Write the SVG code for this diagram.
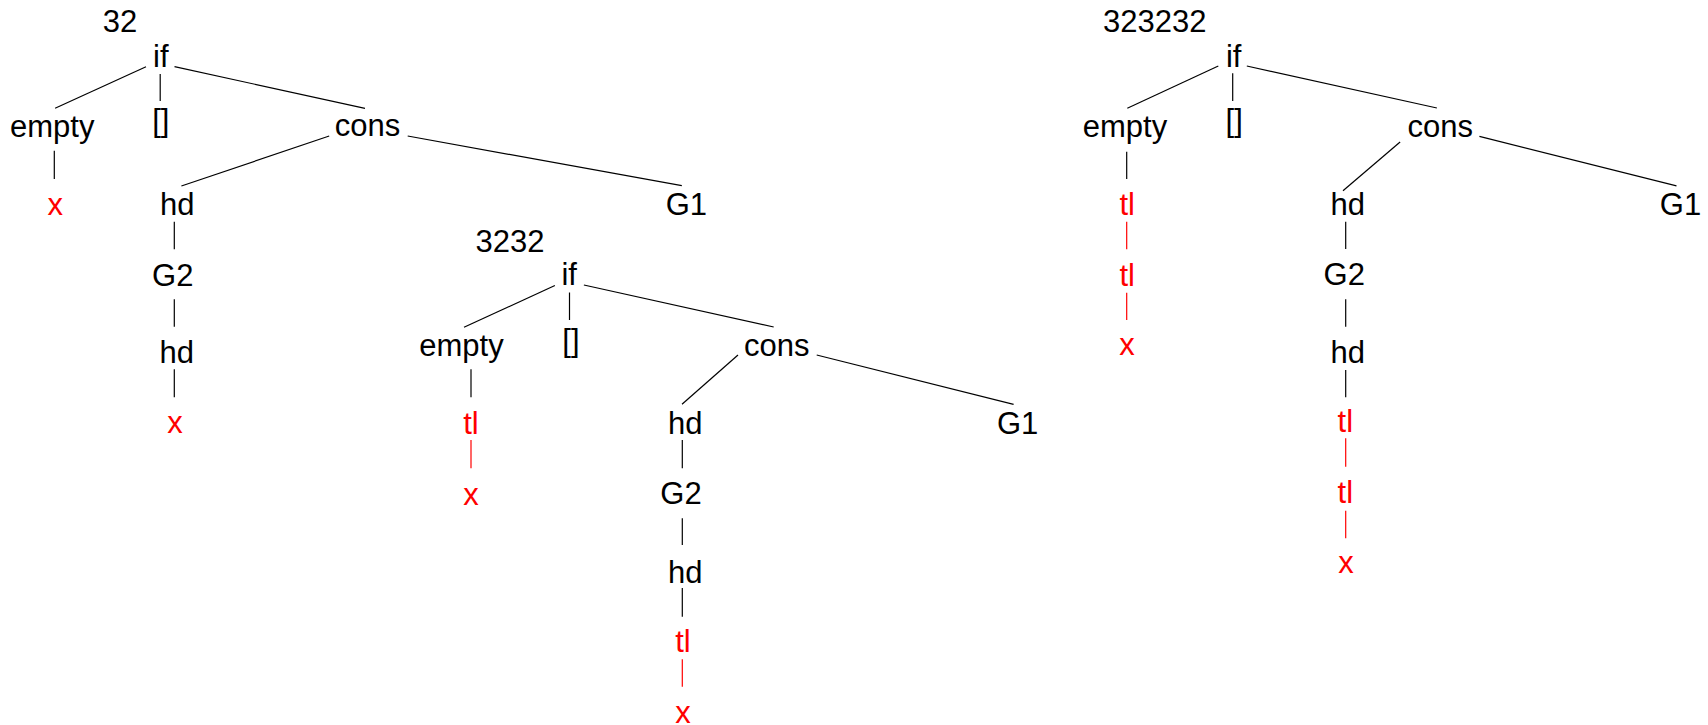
<svg xmlns="http://www.w3.org/2000/svg" width="1708" height="725" viewBox="0 0 1708 725">
  <style>
    text { font-family: "Liberation Sans", Arial, Helvetica, sans-serif; font-size: 31px; text-anchor: middle; fill: #000; }
    text.r { fill: #ff0000; }
    .e line { stroke: #000; stroke-width: 1.2; }
    .e line.r { stroke: #ff0000; }
  </style>
  <rect width="1708" height="725" fill="#fff"/>

  <!-- connectors -->
  <g id="connectors" class="e">
    <!-- tree 32 -->
    <line x1="146" y1="66.7" x2="55.1" y2="108.3"/>
    <line x1="160.2" y1="74" x2="160.2" y2="101"/>
    <line x1="174.5" y1="66.7" x2="365" y2="108.3"/>
    <line x1="54.3" y1="150.7" x2="54.3" y2="179"/>
    <line x1="329.2" y1="136" x2="181.4" y2="186"/>
    <line x1="407.7" y1="136" x2="681.8" y2="185.7"/>
    <line x1="174.3" y1="221.7" x2="174.3" y2="249.3"/>
    <line x1="174.3" y1="299.3" x2="174.3" y2="326.7"/>
    <line x1="174.3" y1="369.3" x2="174.3" y2="397.3"/>
    <!-- tree 3232 -->
    <line x1="554.9" y1="285.5" x2="464" y2="327.3"/>
    <line x1="569.5" y1="292.5" x2="569.5" y2="320"/>
    <line x1="583.9" y1="285" x2="773.7" y2="327"/>
    <line x1="471" y1="369.3" x2="471" y2="397.3"/>
    <line class="r" x1="471" y1="440" x2="471" y2="468.3"/>
    <line x1="738" y1="355" x2="682" y2="404.3"/>
    <line x1="816.7" y1="355" x2="1013.6" y2="404.3"/>
    <line x1="682.3" y1="440" x2="682.3" y2="468.3"/>
    <line x1="682.3" y1="518.3" x2="682.3" y2="545"/>
    <line x1="682.3" y1="588" x2="682.3" y2="616.7"/>
    <line class="r" x1="682.3" y1="659.3" x2="682.3" y2="686.7"/>
    <!-- tree 323232 -->
    <line x1="1218.3" y1="66" x2="1127.3" y2="108.3"/>
    <line x1="1232.7" y1="73.3" x2="1232.7" y2="101"/>
    <line x1="1246.8" y1="66" x2="1436.9" y2="108"/>
    <line x1="1126.7" y1="151.7" x2="1126.7" y2="179"/>
    <line class="r" x1="1126.7" y1="221.7" x2="1126.7" y2="249.3"/>
    <line class="r" x1="1126.7" y1="292.7" x2="1126.7" y2="320"/>
    <line x1="1400.1" y1="142" x2="1343" y2="190.8"/>
    <line x1="1479.4" y1="136.3" x2="1676.5" y2="185.9"/>
    <line x1="1345.7" y1="221.7" x2="1345.7" y2="249"/>
    <line x1="1345.7" y1="299.3" x2="1345.7" y2="326.7"/>
    <line x1="1345.7" y1="370" x2="1345.7" y2="397.3"/>
    <line class="r" x1="1345.7" y1="438.3" x2="1345.7" y2="466.7"/>
    <line class="r" x1="1345.7" y1="510.7" x2="1345.7" y2="538.3"/>
  </g>

  <!-- tree 32 -->
  <g id="t1-label"><text x="120" y="31.7">32</text></g>
  <g id="t1-if"><text x="160.8" y="66.7">if</text></g>
  <g id="t1-empty"><text x="52.2" y="136.7">empty</text></g>
  <g id="t1-nil"><text x="160.8" y="131">[]</text></g>
  <g id="t1-cons"><text x="367.5" y="136">cons</text></g>
  <g id="t1-x1"><text class="r" x="55.3" y="215">x</text></g>
  <g id="t1-hd1"><text x="177.2" y="215">hd</text></g>
  <g id="t1-g1"><text x="686.4" y="215">G1</text></g>
  <g id="t1-g2"><text x="172.7" y="286">G2</text></g>
  <g id="t1-hd2"><text x="176.7" y="363.3">hd</text></g>
  <g id="t1-x2"><text class="r" x="175" y="433.4">x</text></g>

  <!-- tree 3232 -->
  <g id="t2-label"><text x="510" y="251.7">3232</text></g>
  <g id="t2-if"><text x="569.2" y="285">if</text></g>
  <g id="t2-empty"><text x="461.5" y="355.5">empty</text></g>
  <g id="t2-nil"><text x="570.9" y="351">[]</text></g>
  <g id="t2-cons"><text x="776.7" y="355.5">cons</text></g>
  <g id="t2-tl1"><text class="r" x="471" y="434">tl</text></g>
  <g id="t2-x1"><text class="r" x="471" y="505">x</text></g>
  <g id="t2-hd1"><text x="685.2" y="434">hd</text></g>
  <g id="t2-g1"><text x="1017.6" y="434">G1</text></g>
  <g id="t2-g2"><text x="681" y="504">G2</text></g>
  <g id="t2-hd2"><text x="685.2" y="582.7">hd</text></g>
  <g id="t2-tl2"><text class="r" x="683" y="651.7">tl</text></g>
  <g id="t2-x2"><text class="r" x="683" y="723.3">x</text></g>

  <!-- tree 323232 -->
  <g id="t3-label"><text x="1154.7" y="31.7">323232</text></g>
  <g id="t3-if"><text x="1233.7" y="66.7">if</text></g>
  <g id="t3-empty"><text x="1125" y="136.7">empty</text></g>
  <g id="t3-nil"><text x="1234.2" y="131">[]</text></g>
  <g id="t3-cons"><text x="1440.2" y="136.6">cons</text></g>
  <g id="t3-tl1"><text class="r" x="1127.2" y="215">tl</text></g>
  <g id="t3-tl2"><text class="r" x="1127.2" y="286">tl</text></g>
  <g id="t3-x1"><text class="r" x="1127" y="355">x</text></g>
  <g id="t3-hd1"><text x="1347.8" y="215">hd</text></g>
  <g id="t3-g1"><text x="1680.5" y="215">G1</text></g>
  <g id="t3-g2"><text x="1344.2" y="285">G2</text></g>
  <g id="t3-hd2"><text x="1347.8" y="363.3">hd</text></g>
  <g id="t3-tl3"><text class="r" x="1345.3" y="431.7">tl</text></g>
  <g id="t3-tl4"><text class="r" x="1345.3" y="503.3">tl</text></g>
  <g id="t3-x2"><text class="r" x="1346" y="573.3">x</text></g>
</svg>
